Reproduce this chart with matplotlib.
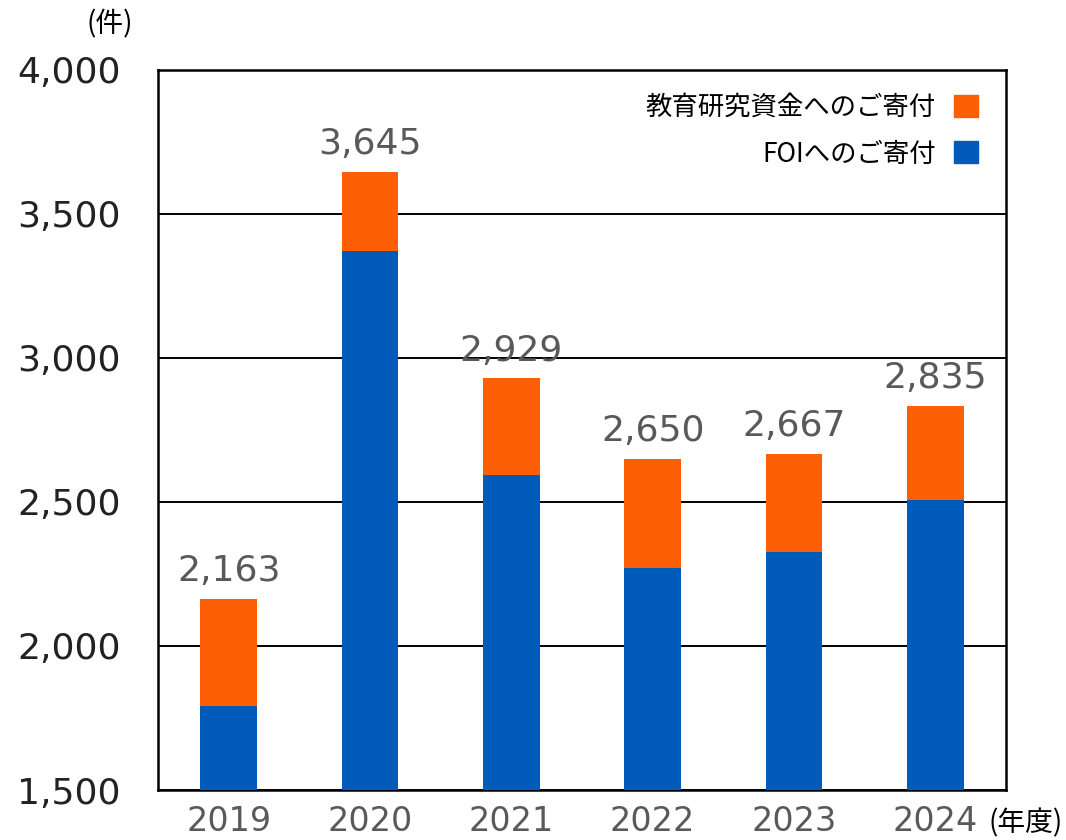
import matplotlib.pyplot as plt
from matplotlib.patches import Patch

plt.rcParams['font.family'] = ['Noto Sans CJK JP', 'DejaVu Sans']

# dados
anos = ['2019', '2020', '2021', '2022', '2023', '2024']
total = [2163, 3645, 2929, 2650, 2667, 2835]
foi = [1792, 3373, 2594, 2270, 2326, 2507]
kyoiku = [t - f for t, f in zip(total, foi)]
rotulos = ['2,163', '3,645', '2,929', '2,650', '2,667', '2,835']

azul = '#005BBB'
laranja = '#FC5F05'
cinza = '#595959'
num = 'DejaVu Sans'

fig = plt.figure(figsize=(10.66, 8.4), dpi=100)
ax = fig.add_axes([158 / 1066, 1 - 790 / 840, 848 / 1066, 720 / 840])

x = range(len(anos))
ax.bar(x, foi, width=0.4, color=azul, zorder=3)
ax.bar(x, kyoiku, width=0.4, color=laranja, bottom=foi, zorder=3)

# valores em cima de cada barra
for i in x:
    ax.text(i, total[i] + 38, rotulos[i], ha='center', va='bottom',
            fontsize=26, color=cinza, family=num)

ax.set_xlim(-0.5, 5.5)
ax.set_ylim(1500, 4000)
ax.set_yticks([1500, 2000, 2500, 3000, 3500, 4000])
ax.set_yticklabels(['1,500', '2,000', '2,500', '3,000', '3,500', '4,000'],
                   fontsize=26, color='#222222', family=num)
ax.set_xticks(list(x))
ax.set_xticklabels(anos, fontsize=24, color=cinza, family=num)
ax.tick_params(length=0)
ax.tick_params(axis='x', pad=11)
ax.tick_params(axis='y', pad=27)
ax.grid(axis='y', color='black', linewidth=1.4, zorder=1)
for s in ax.spines.values():
    s.set_linewidth(1.8)
    s.set_color('black')

handles = [Patch(color=laranja, label='教育研究資金へのご寄付'),
           Patch(color=azul, label='FOIへのご寄付')]
ax.legend(handles=handles, loc='upper right', frameon=False, markerfirst=False,
          fontsize=19, handlelength=0.9, handleheight=0.9, labelspacing=0.75,
          handletextpad=0.7, bbox_to_anchor=(0.995, 1.0))

fig.text(110 / 1066, 1 - 24 / 840, '(件)', ha='center', va='center', fontsize=20)
fig.text(1063 / 1066, 1 - 823 / 840, '(年度)', ha='right', va='center', fontsize=20)

fig.savefig('out.png', dpi=100)
